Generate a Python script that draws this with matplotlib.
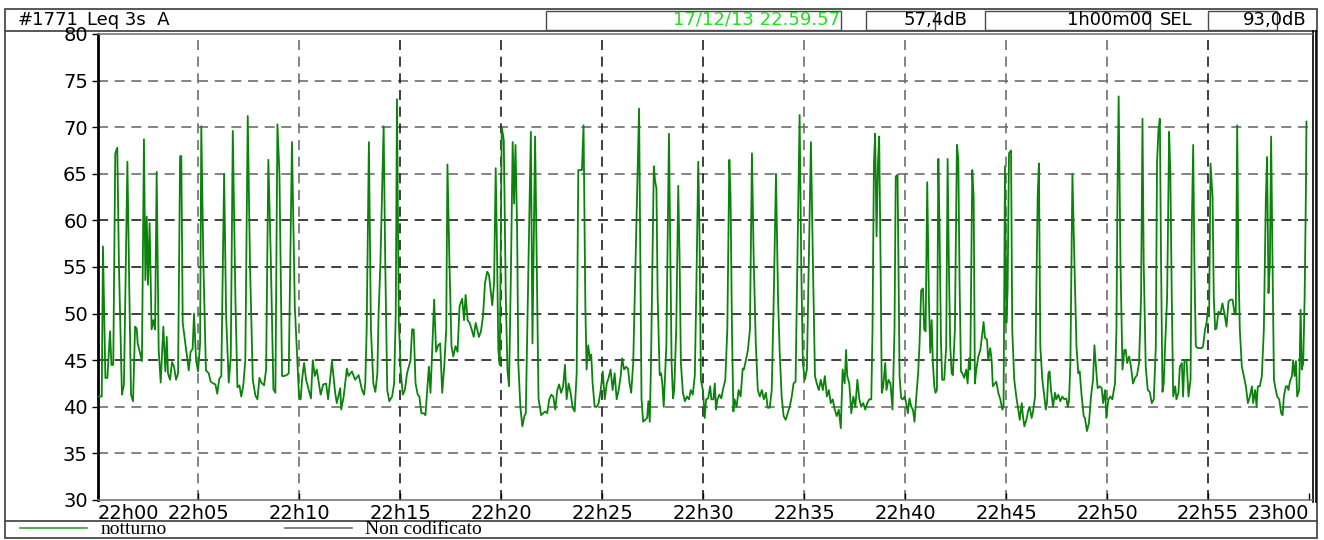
import matplotlib
matplotlib.use("Agg")
import matplotlib.pyplot as plt
from matplotlib.lines import Line2D
from matplotlib.patches import Rectangle

# Leq 3s (dB A), time in minutes after 22h00
minutes = [
    0.01, 0.21, 0.27, 0.39, 0.49, 0.62, 0.69, 0.78, 0.88, 0.98,
    1.06, 1.21, 1.31, 1.48, 1.58, 1.66, 1.76, 1.86, 1.94, 1.99,
    2.07, 2.20, 2.30, 2.37, 2.44, 2.50, 2.58, 2.68, 2.77, 2.85,
    2.93, 3.03, 3.13, 3.26, 3.36, 3.43, 3.49, 3.59, 3.69, 3.79,
    3.89, 3.99, 4.09, 4.15, 4.22, 4.35, 4.52, 4.61, 4.71, 4.78,
    4.88, 4.98, 5.08, 5.14, 5.24, 5.37, 5.51, 5.60, 5.74, 5.84,
    5.93, 6.03, 6.13, 6.27, 6.37, 6.50, 6.60, 6.70, 6.83, 6.93,
    7.03, 7.12, 7.22, 7.32, 7.44, 7.55, 7.69, 7.82, 7.92, 8.02,
    8.11, 8.25, 8.35, 8.46, 8.58, 8.71, 8.81, 8.91, 9.01, 9.14,
    9.24, 9.37, 9.47, 9.63, 9.77, 9.90, 9.98, 10.06, 10.13, 10.23,
    10.33, 10.46, 10.57, 10.66, 10.76, 10.86, 10.95, 11.05, 11.18, 11.32,
    11.42, 11.61, 11.77, 11.85, 12.02, 12.07, 12.19, 12.35, 12.43, 12.60,
    12.76, 12.93, 13.10, 13.20, 13.26, 13.33, 13.44, 13.54, 13.66, 13.76,
    13.86, 13.92, 14.01, 14.17, 14.25, 14.35, 14.45, 14.59, 14.69, 14.77,
    14.83, 14.92, 15.02, 15.12, 15.22, 15.33, 15.50, 15.58, 15.66, 15.75,
    15.86, 15.94, 16.04, 16.16, 16.24, 16.41, 16.49, 16.57, 16.67, 16.77,
    16.87, 16.97, 17.07, 17.17, 17.27, 17.33, 17.43, 17.53, 17.62, 17.73,
    17.83, 17.93, 18.06, 18.15, 18.23, 18.33, 18.43, 18.53, 18.63, 18.73,
    18.89, 18.99, 19.09, 19.19, 19.30, 19.39, 19.47, 19.55, 19.64, 19.72,
    19.78, 19.85, 19.92, 20.02, 20.12, 20.22, 20.30, 20.38, 20.48, 20.56,
    20.63, 20.70, 20.78, 20.84, 20.94, 21.04, 21.14, 21.21, 21.46, 21.54,
    21.67, 21.84, 21.97, 22.07, 22.17, 22.27, 22.37, 22.47, 22.57, 22.67,
    22.77, 22.86, 22.96, 23.06, 23.15, 23.23, 23.33, 23.43, 23.53, 23.63,
    23.73, 23.81, 23.91, 23.99, 24.07, 24.16, 24.22, 24.30, 24.39, 24.45,
    24.52, 24.62, 24.72, 24.82, 24.92, 25.02, 25.12, 25.22, 25.31, 25.41,
    25.51, 25.61, 25.71, 25.81, 25.91, 25.98, 26.08, 26.18, 26.27, 26.35,
    26.43, 26.53, 26.72, 26.82, 26.94, 27.02, 27.12, 27.22, 27.28, 27.35,
    27.41, 27.55, 27.61, 27.68, 27.74, 27.84, 27.91, 27.97, 28.04, 28.10,
    28.17, 28.30, 28.43, 28.50, 28.56, 28.66, 28.76, 28.83, 28.89, 28.99,
    29.09, 29.19, 29.29, 29.38, 29.48, 29.58, 29.65, 29.75, 29.81, 29.88,
    29.98, 30.07, 30.14, 30.24, 30.34, 30.40, 30.50, 30.57, 30.63, 30.70,
    30.80, 30.89, 30.99, 31.09, 31.19, 31.29, 31.35, 31.42, 31.49, 31.55,
    31.65, 31.75, 31.85, 31.95, 32.01, 32.11, 32.21, 32.31, 32.41, 32.50,
    32.60, 32.70, 32.80, 32.90, 33.00, 33.10, 33.19, 33.29, 33.39, 33.49,
    33.60, 33.70, 33.78, 33.88, 33.98, 34.08, 34.18, 34.28, 34.38, 34.47,
    34.57, 34.77, 34.85, 34.93, 35.03, 35.13, 35.33, 35.43, 35.53, 35.62,
    35.72, 35.82, 35.92, 36.02, 36.12, 36.22, 36.31, 36.41, 36.51, 36.61,
    36.71, 36.81, 36.90, 37.00, 37.07, 37.13, 37.23, 37.33, 37.43, 37.53,
    37.63, 37.73, 37.82, 37.92, 38.02, 38.12, 38.22, 38.32, 38.38, 38.45,
    38.51, 38.58, 38.65, 38.71, 38.78, 38.84, 38.91, 39.01, 39.07, 39.17,
    39.27, 39.37, 39.47, 39.53, 39.62, 39.72, 39.80, 39.88, 39.97, 40.05,
    40.13, 40.21, 40.30, 40.38, 40.46, 40.55, 40.64, 40.71, 40.79, 40.88,
    40.94, 41.01, 41.09, 41.17, 41.24, 41.31, 41.37, 41.44, 41.50, 41.57,
    41.64, 41.70, 41.77, 41.83, 41.93, 42.03, 42.10, 42.16, 42.23, 42.30,
    42.36, 42.46, 42.56, 42.63, 42.69, 42.76, 42.83, 42.92, 43.02, 43.09,
    43.16, 43.22, 43.32, 43.39, 43.45, 43.52, 43.62, 43.72, 43.82, 43.88,
    43.95, 44.05, 44.11, 44.21, 44.28, 44.34, 44.44, 44.51, 44.61, 44.71,
    44.81, 44.87, 44.94, 45.01, 45.07, 45.14, 45.24, 45.30, 45.40, 45.50,
    45.60, 45.67, 45.77, 45.83, 45.90, 46.00, 46.10, 46.16, 46.26, 46.33,
    46.43, 46.49, 46.56, 46.62, 46.69, 46.79, 46.89, 46.96, 47.02, 47.09,
    47.15, 47.22, 47.32, 47.42, 47.48, 47.58, 47.68, 47.78, 47.88, 47.98,
    48.05, 48.11, 48.18, 48.28, 48.38, 48.48, 48.57, 48.64, 48.74, 48.84,
    48.90, 49.00, 49.10, 49.20, 49.30, 49.37, 49.47, 49.53, 49.63, 49.73,
    49.80, 49.90, 49.96, 50.06, 50.16, 50.26, 50.33, 50.39, 50.46, 50.51,
    50.57, 50.66, 50.76, 50.85, 50.92, 50.99, 51.09, 51.18, 51.28, 51.38,
    51.48, 51.58, 51.68, 51.75, 51.81, 51.91, 52.01, 52.11, 52.21, 52.31,
    52.41, 52.47, 52.54, 52.61, 52.67, 52.74, 52.80, 52.87, 52.97, 53.07,
    53.13, 53.20, 53.27, 53.37, 53.43, 53.53, 53.60, 53.70, 53.76, 53.83,
    53.93, 54.03, 54.13, 54.19, 54.26, 54.32, 54.39, 54.49, 54.59, 54.69,
    54.75, 54.85, 54.92, 54.98, 55.05, 55.12, 55.22, 55.28, 55.35, 55.41,
    55.51, 55.61, 55.71, 55.81, 55.91, 56.01, 56.11, 56.21, 56.31, 56.37,
    56.44, 56.50, 56.57, 56.67, 56.77, 56.87, 56.97, 57.07, 57.17, 57.23,
    57.33, 57.40, 57.46, 57.56, 57.66, 57.76, 57.86, 57.92, 57.99, 58.06,
    58.12, 58.19, 58.26, 58.35, 58.42, 58.52, 58.62, 58.69, 58.75, 58.85,
    58.92, 58.98, 59.05, 59.15, 59.21, 59.28, 59.35, 59.41, 59.51, 59.58,
    59.64, 59.71, 59.78, 59.84, 59.87,
]

leq_db = [
    41.1, 41.1, 57.2, 43.1, 43.1, 48.1, 44.5, 44.5, 67.2, 67.8,
    55.4, 41.3, 42.4, 66.3, 51.8, 41.3, 40.6, 48.6, 48.4, 46.8,
    46.1, 44.9, 68.7, 53.6, 60.4, 53.1, 59.7, 48.3, 49.3, 48.3,
    65.2, 46.1, 42.6, 48.6, 43.8, 47.5, 43.6, 42.9, 44.8, 44.3,
    42.9, 43.6, 66.9, 66.9, 49.0, 46.8, 43.9, 45.9, 46.2, 50.0,
    45.0, 43.8, 46.8, 70.1, 55.7, 43.9, 43.6, 42.7, 42.5, 42.4,
    41.4, 43.0, 43.3, 65.0, 49.7, 42.6, 45.4, 69.6, 51.5, 42.1,
    42.3, 41.1, 42.3, 45.0, 71.2, 55.4, 42.9, 41.2, 40.8, 43.1,
    42.6, 42.3, 44.0, 66.5, 56.1, 41.9, 41.5, 70.3, 65.0, 43.3,
    43.3, 43.4, 43.6, 68.4, 50.8, 44.7, 41.1, 40.8, 42.9, 44.7,
    42.9, 41.8, 40.9, 45.0, 43.3, 44.0, 42.7, 41.3, 42.4, 42.5,
    40.8, 44.9, 41.5, 40.4, 42.0, 39.7, 41.1, 44.1, 43.3, 43.8,
    42.9, 43.4, 41.8, 41.3, 42.5, 48.3, 68.4, 48.3, 42.5, 41.6,
    43.6, 50.0, 55.4, 70.1, 55.4, 41.8, 40.6, 41.1, 42.5, 50.0,
    73.0, 49.3, 43.6, 41.3, 41.8, 43.6, 45.0, 48.3, 48.3, 42.5,
    41.3, 41.1, 39.3, 39.3, 39.1, 44.3, 41.5, 45.8, 51.5, 45.9,
    46.6, 46.8, 41.5, 44.3, 48.3, 66.0, 55.4, 46.5, 45.4, 46.5,
    45.9, 50.8, 51.6, 49.3, 52.0, 49.3, 49.0, 48.3, 47.5, 49.0,
    47.5, 48.1, 49.7, 53.3, 54.5, 54.1, 52.5, 50.9, 53.3, 65.6,
    57.5, 46.1, 44.5, 70.0, 68.6, 51.8, 44.0, 42.2, 55.4, 68.4,
    61.8, 68.1, 59.0, 44.7, 40.0, 37.9, 39.0, 39.3, 69.5, 46.8,
    69.0, 40.9, 39.1, 39.3, 39.5, 39.3, 40.8, 41.3, 41.1, 39.7,
    41.8, 42.4, 41.5, 42.2, 44.5, 40.8, 42.5, 41.5, 39.9, 39.5,
    43.6, 65.4, 65.4, 65.4, 70.2, 50.8, 44.0, 46.6, 45.0, 45.6,
    42.5, 40.0, 40.0, 40.4, 41.8, 43.8, 40.8, 42.5, 43.1, 44.0,
    41.8, 43.6, 40.8, 41.8, 43.3, 45.2, 44.0, 44.3, 44.1, 42.5,
    41.5, 44.7, 62.5, 72.0, 40.9, 38.4, 38.6, 38.8, 40.6, 38.4,
    44.7, 65.8, 64.3, 63.4, 51.8, 43.4, 43.6, 42.5, 40.0, 42.9,
    46.5, 69.3, 44.7, 40.9, 41.8, 48.3, 63.7, 55.4, 44.7, 41.5,
    40.6, 41.1, 40.8, 41.8, 41.3, 43.4, 51.8, 66.3, 59.0, 42.9,
    41.8, 38.8, 40.8, 40.9, 42.2, 40.8, 40.8, 42.5, 39.7, 40.8,
    41.3, 40.9, 42.0, 42.9, 48.3, 66.5, 62.5, 48.3, 39.5, 40.8,
    40.0, 41.8, 41.1, 44.1, 44.0, 45.0, 46.1, 48.3, 67.2, 55.4,
    46.8, 41.8, 41.1, 41.8, 40.8, 41.5, 39.9, 39.9, 41.8, 51.8,
    65.0, 51.8, 46.1, 41.1, 39.0, 38.6, 39.3, 40.0, 41.1, 42.5,
    42.7, 71.3, 55.4, 44.7, 42.9, 44.0, 68.4, 55.4, 43.3, 42.5,
    41.8, 42.9, 41.8, 43.3, 41.1, 41.8, 40.4, 40.8, 39.7, 39.0,
    39.7, 37.7, 44.0, 42.5, 46.1, 43.3, 42.5, 39.3, 41.1, 40.0,
    42.9, 40.8, 40.0, 40.4, 39.7, 40.4, 40.8, 40.8, 48.3, 66.1,
    69.3, 58.3, 66.1, 69.0, 55.4, 41.5, 42.2, 44.7, 41.8, 42.9,
    42.5, 39.7, 48.3, 64.7, 64.9, 43.3, 40.9, 40.8, 41.1, 40.4,
    39.3, 40.9, 40.0, 39.7, 38.4, 41.1, 43.6, 46.8, 52.5, 52.7,
    48.3, 48.1, 64.1, 51.8, 45.8, 49.3, 44.7, 42.2, 41.5, 41.8,
    66.6, 59.0, 47.0, 42.9, 42.9, 46.5, 66.6, 55.4, 46.5, 43.6,
    43.4, 48.3, 68.1, 66.6, 53.6, 43.8, 43.6, 43.1, 44.0, 42.5,
    45.2, 44.0, 65.4, 62.5, 42.5, 44.0, 45.4, 46.1, 47.9, 49.1,
    47.4, 47.2, 45.0, 46.3, 45.0, 42.2, 42.5, 42.7, 41.5, 40.8,
    39.7, 40.0, 65.8, 49.0, 52.5, 67.2, 67.5, 48.3, 42.9, 41.1,
    39.7, 38.6, 40.4, 39.0, 37.9, 38.6, 39.7, 40.0, 38.8, 39.5,
    41.1, 51.8, 62.5, 66.1, 46.5, 42.9, 41.1, 39.7, 40.4, 43.6,
    43.8, 41.8, 40.0, 41.5, 40.8, 41.3, 40.6, 41.1, 40.8, 40.9,
    40.0, 40.6, 44.7, 65.0, 55.4, 46.5, 43.6, 43.8, 41.1, 39.0,
    38.8, 37.4, 38.3, 41.1, 42.9, 46.6, 43.6, 42.0, 42.2, 42.0,
    40.4, 41.8, 38.8, 40.8, 41.1, 40.8, 41.8, 42.5, 48.3, 62.5,
    73.3, 55.4, 44.0, 46.1, 46.1, 44.7, 45.4, 44.3, 42.5, 43.1,
    43.4, 44.7, 51.8, 70.9, 55.4, 44.3, 41.8, 41.6, 40.4, 40.8,
    46.5, 66.1, 69.7, 70.9, 55.4, 41.6, 42.5, 46.5, 51.8, 69.5,
    65.0, 51.8, 41.1, 42.2, 40.8, 41.5, 44.3, 44.7, 41.1, 45.0,
    45.0, 41.1, 42.9, 59.0, 68.1, 55.4, 46.5, 46.3, 46.3, 46.3,
    46.5, 48.3, 49.0, 50.2, 49.7, 66.1, 62.5, 51.8, 48.3, 48.4,
    50.2, 50.0, 51.1, 50.0, 48.6, 51.3, 51.5, 51.5, 50.0, 49.9,
    70.2, 55.4, 48.3, 44.3, 43.3, 42.2, 40.4, 41.1, 42.2, 40.4,
    41.8, 40.0, 42.2, 42.2, 43.3, 48.3, 62.5, 66.8, 52.2, 55.4,
    69.0, 55.4, 42.9, 41.8, 41.1, 40.8, 39.3, 39.1, 41.1, 42.2,
    42.2, 41.8, 42.7, 43.3, 45.0, 43.3, 44.9, 41.1, 41.8, 50.4,
    44.0, 44.7, 51.8, 62.5, 70.6,
]

tick_minutes = list(range(0, 61, 5))
tick_labels = ['22h00', '22h05', '22h10', '22h15', '22h20', '22h25', '22h30',
               '22h35', '22h40', '22h45', '22h50', '22h55', '23h00']
db_ticks = list(range(30, 81, 5))

channel = '#1771'
measure = 'Leq 3s  A'
end_stamp = '17/12/13 22.59.57'
leq_total = '57,4dB'
duration = '1h00m00'
sel_total = '93,0dB'
legend_names = ['notturno', 'Non codificato']

plt.rcParams['font.family'] = ['DejaVu Sans']

W, H = 1324, 540
fig = plt.figure(figsize=(W / 100, H / 100), dpi=100)
fig.patch.set_facecolor('white')

# pixel space layer: outer frame, header strip and legend strip
deco = fig.add_axes([0, 0, 1, 1])
deco.set_xlim(0, W)
deco.set_ylim(H, 0)
deco.axis('off')
edge = '#4a4a4a'
deco.add_patch(Rectangle((5, 9), 1312, 529, fill=False, ec=edge, lw=1.3))
deco.plot([5, 1317], [31, 31], color=edge, lw=1.3)
deco.plot([5, 1317], [521, 521], color=edge, lw=1.3)
for x0, x1 in [(546, 841), (866, 935), (985, 1150), (1208, 1277)]:
    deco.add_patch(Rectangle((x0, 11), x1 - x0, 19, fill=False, ec=edge, lw=1.0))
# double right border of the chart
deco.plot([1312.5, 1312.5], [31, 502], color='black', lw=1.2)
deco.plot([1315.5, 1315.5], [31, 502], color='black', lw=1.2)

hdr = dict(fontsize=13, va='center', color='black')
deco.text(18, 20, channel, **hdr)
deco.text(87, 20, measure, **hdr)
deco.text(840, 20, end_stamp, ha='right', **{**hdr, 'color': '#22dd22'})
deco.text(967, 20, leq_total, ha='right', **hdr)
deco.text(1152, 20, duration, ha='right', **hdr)
deco.text(1160, 20, 'SEL', ha='left', **hdr)
deco.text(1306, 20, sel_total, ha='right', **hdr)

# main chart
ax = fig.add_axes([97.5 / W, 40 / H, 1214 / W, 466 / H])
ax.set_xlim(0, 60.12)
ax.set_ylim(30, 80)

grey, dark = '#6e6e6e', '#1e1e1e'
dash = (0, (6, 4))
for v in db_ticks[1:-1]:
    ax.axhline(v, color=dark if 45 <= v <= 60 else grey, lw=1.2, ls=dash, zorder=1)
for m in tick_minutes[1:-1]:
    ax.axvline(m, color=dark if 15 <= m <= 30 or m == 55 else grey, lw=1.2, ls=dash, zorder=1)

ax.plot(minutes, leq_db, color='#0b820b', lw=1.3, zorder=3)

ax.spines['left'].set_color('black')
ax.spines['left'].set_linewidth(2.0)
for side in ('top', 'bottom'):
    ax.spines[side].set_color('#777777')
    ax.spines[side].set_linewidth(1.2)
ax.spines['right'].set_visible(False)

ax.set_yticks(db_ticks)
ax.set_yticklabels([str(v) for v in db_ticks])
ax.tick_params(axis='y', direction='out', length=4, width=1, pad=3, labelsize=14)
ax.set_xticks(tick_minutes)
ax.set_xticklabels(tick_labels)
ax.tick_params(axis='x', direction='in', length=5, width=1, pad=3, labelsize=14)
xl = ax.get_xticklabels()
xl[0].set_horizontalalignment('left')
xl[-1].set_horizontalalignment('right')

handles = [Line2D([], [], color='#2f9f2f', lw=1.2),
           Line2D([], [], color='#6a6a6a', lw=1.2)]
fig.legend(handles, legend_names, loc='center left',
           bbox_to_anchor=(20 / W, 1 - 529.5 / H), ncol=2, frameon=False,
           prop={'family': 'Liberation Serif', 'size': 14},
           handlelength=3.45, handletextpad=0.67, columnspacing=6.1,
           borderpad=0, borderaxespad=0)

fig.savefig('out.png', dpi=100)
